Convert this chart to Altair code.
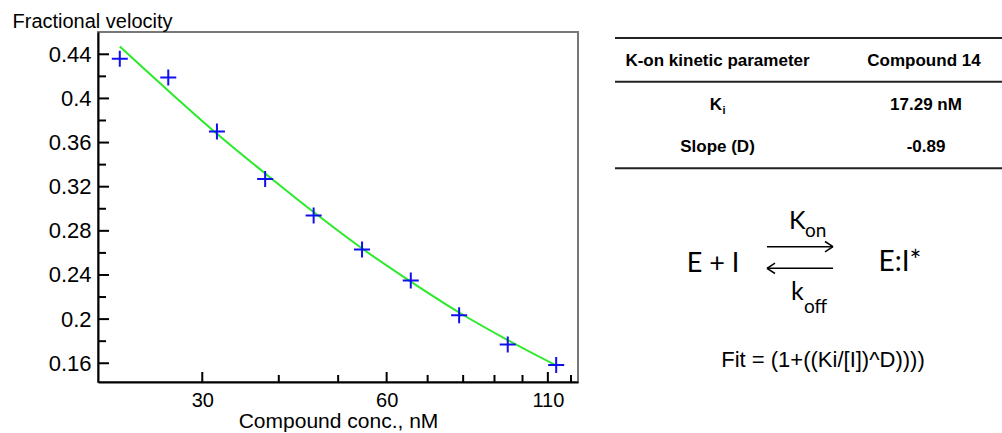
import altair as alt
import pandas as pd

# ---- data ----
conc = [22.0, 26.4, 31.7, 38.0, 45.6, 54.7, 65.7, 78.8, 94.6, 113.5]
velocity = [0.436, 0.419, 0.370, 0.327, 0.294, 0.263, 0.235, 0.2035, 0.177, 0.1585]
fit_values = [0.447, 0.407, 0.368, 0.332, 0.297, 0.264, 0.234, 0.206, 0.181, 0.158]

x_major = [30, 60, 110]
x_minor = [40, 50, 70, 80, 90, 100, 120]
y_major = [0.16, 0.20, 0.24, 0.28, 0.32, 0.36, 0.40, 0.44]
y_minor = [0.18, 0.22, 0.26, 0.30, 0.34, 0.38, 0.42]

table_header = ["K-on kinetic parameter", "Compound 14"]
table_ki = ["K", "i", "17.29 nM"]
table_slope = ["Slope (D)", "-0.89"]
fit_text = "Fit = (1+((Ki/[I])^D))))"

df = pd.DataFrame({"conc": conc, "velocity": velocity, "fit": fit_values})

W, H = 480, 350
xscale = alt.Scale(type="log", domain=[20.27, 123.2], nice=False, zero=False)
yscale = alt.Scale(domain=[0.143, 0.4602], nice=False, zero=False)
FONT = "Liberation Sans"
SCHEME_FONT = "Lato"

x_axis = alt.Axis(
    values=x_major, ticks=False, grid=False, domainColor="black", domainWidth=2,
    labelFont=FONT, labelFontSize=20, labelColor="black", labelPadding=8,
    labelFlush=False, title="Compound conc., nM", titleFont=FONT, titleFontSize=21,
    titleFontWeight="normal", titleColor="black", titleBaseline="alphabetic",
    titleY=45, titleX=W / 2,
)
y_axis = alt.Axis(
    values=y_major, ticks=False, grid=False, domainColor="black", domainWidth=2,
    labelFont=FONT, labelFontSize=22, labelColor="black", labelPadding=7,
    labelExpr="format(datum.value, '.2~f')",
    title="Fractional velocity", titleFont=FONT, titleFontSize=20,
    titleFontWeight="normal", titleColor="black", titleAngle=0, titleAlign="left",
    titleBaseline="alphabetic", titleX=-86, titleY=-5,
)

fit_line = alt.Chart(df).mark_line(color="#2aea2a", strokeWidth=2, interpolate="monotone").encode(
    x=alt.X("conc:Q", scale=xscale, axis=x_axis),
    y=alt.Y("fit:Q", scale=yscale, axis=y_axis),
)
points = alt.Chart(df).mark_point(
    shape="M-1,0L1,0M0,-1L0,1", size=256, filled=False, color="#1010ee", strokeWidth=2, opacity=1
).encode(
    x=alt.X("conc:Q", scale=xscale),
    y=alt.Y("velocity:Q", scale=yscale),
)

# inward ticks
xmaj = alt.Chart(pd.DataFrame({"v": x_major})).mark_rule(color="black", strokeWidth=2).encode(
    x=alt.X("v:Q", scale=xscale), y=alt.value(H), y2=alt.value(H - 10))
xmin = alt.Chart(pd.DataFrame({"v": x_minor})).mark_rule(color="black", strokeWidth=2).encode(
    x=alt.X("v:Q", scale=xscale), y=alt.value(H), y2=alt.value(H - 7))
ymaj = alt.Chart(pd.DataFrame({"v": y_major})).mark_rule(color="black", strokeWidth=2).encode(
    y=alt.Y("v:Q", scale=yscale), x=alt.value(0), x2=alt.value(11))
ymin = alt.Chart(pd.DataFrame({"v": y_minor})).mark_rule(color="black", strokeWidth=2).encode(
    y=alt.Y("v:Q", scale=yscale), x=alt.value(0), x2=alt.value(8))

one = alt.Data(values=[{"a": 1}])


def txt(s, x, y, size, font=FONT, weight="normal", align="center"):
    return alt.Chart(one).mark_text(
        text=s, font=font, fontSize=size, fontWeight=weight, align=align,
        baseline="alphabetic", color="black"
    ).encode(x=alt.value(x), y=alt.value(y))


def seg(x1, y1, x2, y2, color="black", w=1.5):
    return alt.Chart(one).mark_rule(color=color, strokeWidth=w).encode(
        x=alt.value(x1), y=alt.value(y1), x2=alt.value(x2), y2=alt.value(y2))


# table (coordinates relative to plot origin at 98,32)
ann = [
    seg(517, 6, 904, 6, "#222", 2),
    seg(517, 49.7, 904, 49.7, "#222", 2),
    seg(517, 136.3, 904, 136.3, "#222", 2),
    txt(table_header[0], 619.5, 34, 17, weight="bold"),
    txt(table_header[1], 826, 34, 17, weight="bold"),
    txt(table_ki[0], 624, 78, 17, weight="bold", align="right"),
    txt(table_ki[1], 624.5, 81.5, 11, weight="bold", align="left"),
    txt(table_ki[2], 828, 78, 17, weight="bold"),
    txt(table_slope[0], 619.5, 120, 17, weight="bold"),
    txt(table_slope[1], 828, 120, 17, weight="bold"),
    # reaction scheme
    txt("E + I", 615, 240, 27, font=SCHEME_FONT),
    txt("E:I*", 802, 238.5, 28, font=SCHEME_FONT),
    txt("K", 691, 196.5, 25, font=SCHEME_FONT, align="left"),
    txt("on", 707, 204.5, 19, font=SCHEME_FONT, align="left"),
    txt("k", 693, 268, 25, font=SCHEME_FONT, align="left"),
    txt("off", 706, 281, 19, font=SCHEME_FONT, align="left"),
    seg(669, 214.7, 735, 214.7),
    seg(735, 214.7, 727, 209.5),
    seg(735, 214.7, 727, 219.9),
    seg(669, 236.3, 735, 236.3),
    seg(669, 236.3, 677, 231.1),
    seg(669, 236.3, 677, 241.5),
    txt(fit_text, 725, 334.7, 22),
]

chart = alt.layer(fit_line, points, xmaj, xmin, ymaj, ymin, *ann).properties(
    width=W, height=H,
    autosize=alt.AutoSizeParams(type="none"),
    padding={"left": 98, "top": 32, "right": 424, "bottom": 51},
    background="white",
).configure_view(stroke="#777777", strokeWidth=2)

chart.save("out.html", embed_options={"renderer": "svg", "actions": False})
